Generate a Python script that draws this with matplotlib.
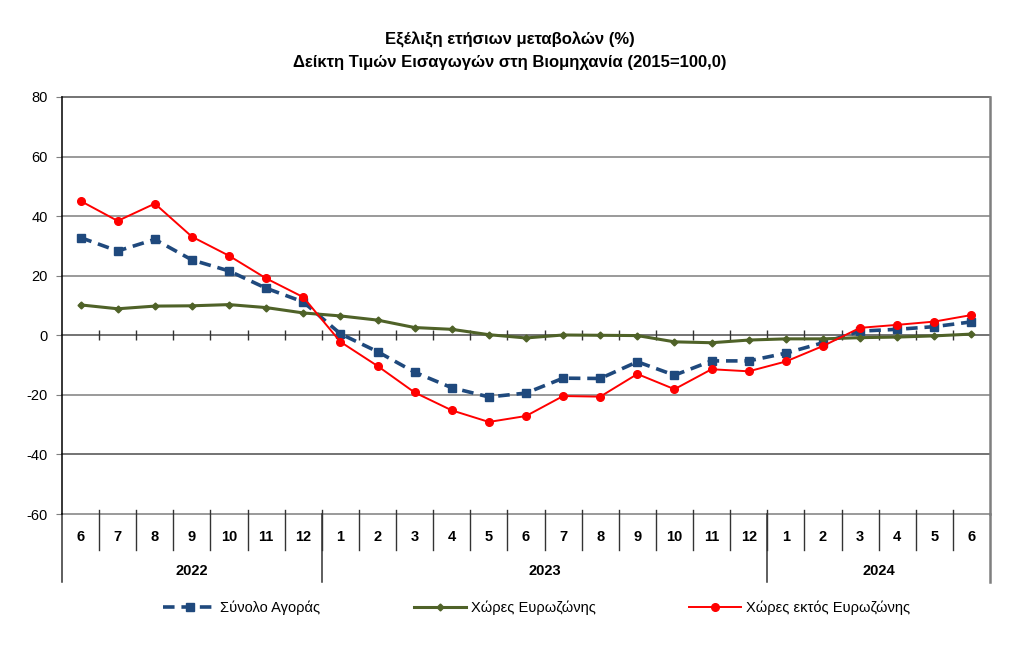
import numpy as np
import matplotlib
matplotlib.use('Agg')
import matplotlib.pyplot as plt
from matplotlib.transforms import blended_transform_factory

months = ['6', '7', '8', '9', '10', '11', '12',
          '1', '2', '3', '4', '5', '6', '7', '8', '9', '10', '11', '12',
          '1', '2', '3', '4', '5', '6']
years = ['2022', '2023', '2024']
year_counts = [7, 12, 6]

total = [32.8, 28.3, 32.2, 25.3, 21.6, 15.8, 11.2,
         0.5, -5.5, -12.4, -17.6, -20.7, -19.4, -14.4, -14.5, -8.9, -13.4, -8.6, -8.6,
         -6.0, -2.5, 1.4, 2.0, 2.9, 4.5]
euro = [10.2, 8.9, 9.8, 9.9, 10.3, 9.3, 7.5,
        6.5, 5.1, 2.6, 2.0, 0.2, -0.9, 0.1, 0.0, -0.1, -2.2, -2.5, -1.6,
        -1.2, -1.2, -0.8, -0.6, -0.2, 0.4]
non_euro = [45.1, 38.4, 44.2, 33.1, 26.7, 19.1, 12.8,
            -2.2, -10.3, -19.2, -25.2, -29.1, -27.1, -20.4, -20.6, -13.0, -18.1, -11.4, -12.1,
            -8.8, -3.6, 2.5, 3.5, 4.6, 6.8]
series_names = ['Σύνολο Αγοράς', 'Χώρες Ευρωζώνης', 'Χώρες εκτός Ευρωζώνης']
title_lines = ['Εξέλιξη ετήσιων μεταβολών (%)',
               'Δείκτη Τιμών Εισαγωγών στη Βιομηχανία (2015=100,0)']
yticks = list(range(-60, 81, 20))

plt.rcParams['font.family'] = ['Liberation Sans', 'DejaVu Sans']

W, H = 1032, 660
fig = plt.figure(figsize=(W / 100, H / 100), dpi=100)
ax = fig.add_axes([62 / W, 1 - 514 / H, (990 - 62) / W, (514 - 97) / H])

x = np.arange(len(months))
ax.set_xlim(-0.5, len(months) - 0.5)
ax.set_ylim(yticks[0], yticks[-1])

for yv in yticks:
    ax.axhline(yv, color='#4d4d4d' if yv in (80, 0, -40) else '#7f7f7f',
               lw=1.1, zorder=1, clip_on=False)

ax.plot(x, total, color='#1F497D', lw=2.6, ls=(0, (3.2, 1.9)),
        marker='s', ms=5.5, zorder=3, label=series_names[0])
ax.plot(x, euro, color='#4F6228', lw=2.2, marker='D', ms=3.5,
        zorder=4, label=series_names[1])
ax.plot(x, non_euro, color='#FF0000', lw=1.4, marker='o', ms=5.5,
        zorder=5, label=series_names[2])

# tick marks on the zero line between categories
ax.vlines(x[:-1] + 0.5, -1.7, 1.7, color='#333333', lw=1, zorder=2)

for s in ['top', 'bottom']:
    ax.spines[s].set_visible(False)
ax.spines['left'].set_color('black')
ax.spines['left'].set_linewidth(1.1)
ax.spines['right'].set_color('#7f7f7f')
ax.spines['right'].set_linewidth(1.8)

ax.set_xticks([])
ax.set_yticks(yticks)
ax.set_yticklabels([str(v) for v in yticks], fontsize=10.5)
ax.tick_params(axis='y', length=4, color='#7f7f7f', pad=6)

# category table below the plot
trans = blended_transform_factory(ax.transData, ax.transAxes)
axh = 514 - 97
def fy(py):
    return -(py - 514) / axh

for i in range(len(months) - 1):
    ax.plot([i + 0.5, i + 0.5], [fy(510), fy(550)], color='#333333', lw=1,
            transform=trans, clip_on=False)
for i, m in enumerate(months):
    ax.text(i, fy(537), m, transform=trans, ha='center', va='center',
            fontsize=10.5, fontweight='bold')

bounds = np.concatenate([[0], np.cumsum(year_counts)]) - 0.5
for b in bounds:
    col = '#7f7f7f' if b == bounds[-1] else '#333333'
    ax.plot([b, b], [fy(514), fy(582)], color=col, lw=1.1 if b != bounds[-1] else 1.8,
            transform=trans, clip_on=False)
for k, yr in enumerate(years):
    ax.text((bounds[k] + bounds[k + 1]) / 2, fy(571), yr, transform=trans,
            ha='center', va='center', fontsize=10.5, fontweight='bold')

fig.text(510 / W, 1 - 40 / H, title_lines[0], ha='center', va='center',
         fontsize=12, fontweight='bold')
fig.text(510 / W, 1 - 63 / H, title_lines[1], ha='center', va='center',
         fontsize=12, fontweight='bold')

fig.legend(loc='center', bbox_to_anchor=(0.52, 1 - 608 / H), ncol=3,
           frameon=False, fontsize=10.5, handlelength=3.6, columnspacing=6.4,
           handletextpad=0.3)

fig.savefig('out.png', dpi=100)
